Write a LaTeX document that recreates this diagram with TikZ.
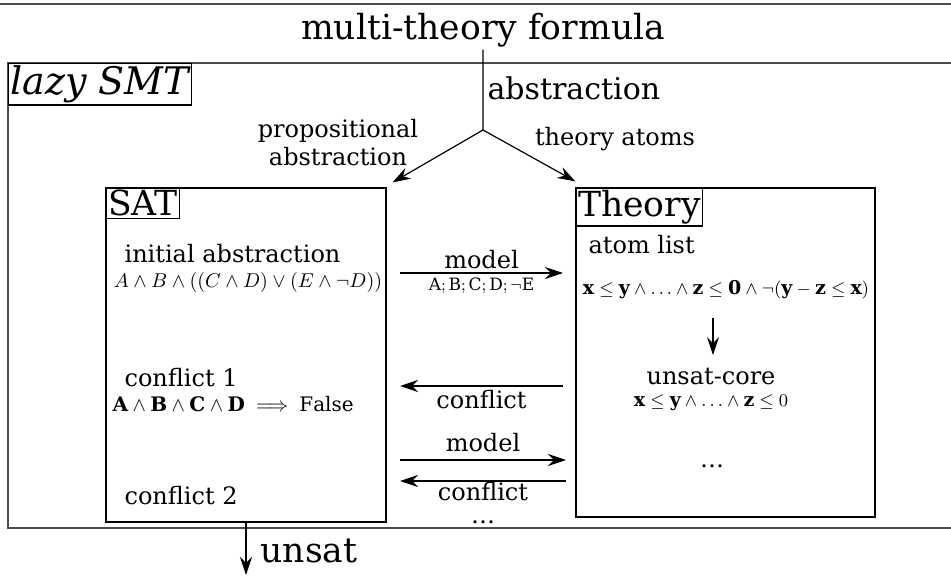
\documentclass[tikz,border=0pt]{standalone}
\usepackage{fontspec}
\setmainfont{DejaVu Serif}
\usepackage{amsmath}
\usepackage{amssymb}
\usetikzlibrary{arrows.meta}
\usetikzlibrary{positioning}

\begin{document}
\begin{tikzpicture}[x=0.5pt,y=-0.5pt,line width=0.6pt,>={Stealth[length=9pt,width=6pt,inset=3pt]},
    box node/.style={draw,rectangle,inner sep=0pt},
    title node/.style={draw,font=\LARGE,inner sep=1pt,anchor=north west},
    text node/.style={font=\large,inner sep=0.5pt},
    arrow label/.style={font=\large,inner sep=2pt},
    math node/.style={inner sep=0pt}]
   \useasboundingbox (0,0) rectangle (951,576);
   \draw[line width=0.9pt,black!70] (0,4) -- (951,4);
   \node[font=\LARGE,inner sep=1pt] (formula) at (483,30) {multi-theory formula};
   % lazy SMT frame
   \draw[line width=0.9pt,black!70] (951,63) -- (8,63) -- (8,528) -- (951,528);
   \node[title node,font=\fontsize{19}{23}\selectfont\itshape] (lazy) at (8,63) {lazy SMT};
   % abstraction
   \coordinate (split) at (483,130);
   \node[font=\fontsize{15}{18}\selectfont,inner sep=1pt,anchor=west] (abs) at (485,88) {abstraction};
   \node[text node,align=center] (prop) at (338,143) {propositional\\abstraction};
   \node[text node] (atoms) at (615,139) {theory atoms};
   \begin{scope}
      \node[box node,minimum width=140pt,minimum height=167pt] (sat) at (246,355) {};
      \node[title node] (satlbl) at (sat.north west) {SAT};
      \node[text node,anchor=west] (init) at (123,254) {initial abstraction};
      \node[math node] (initf) at (248,283) {$A \land B \land ((C \land D) \lor (E \land \neg D))$};
      \node[text node,anchor=west] (conf1) at (123,378) {conflict 1};
      \node[math node,anchor=west] (conf1f) at (112,404) {$\mathbf{A} \land \mathbf{B} \land \mathbf{C} \land \mathbf{D} \implies \mathrm{False}$};
      \node[text node,anchor=west] (conf2) at (123,496) {conflict 2};
   \end{scope}
   \begin{scope}
      \node[box node,minimum width=149.5pt,minimum height=164.5pt] (theory) at (725.5,352.5) {};
      \node[title node] (thlbl) at (theory.north west) {Theory};
      \node[text node,anchor=west] (list) at (587,245) {atom list};
      \node[math node,font=\fontsize{9.5}{11}\selectfont] (listf) at (726,290) {$\mathbf{x} \leq \mathbf{y} \land \ldots \land \mathbf{z} \leq \mathbf{0} \land \neg(\mathbf{y} - \mathbf{z} \leq \mathbf{x})$};
      \node[text node] (core) at (711,377) {unsat-core};
      \node[math node,font=\fontsize{9.5}{11}\selectfont] (coref) at (711,403) {$\mathbf{x} \leq \mathbf{y} \land \ldots \land \mathbf{z} \leq 0$};
      \node[text node] (more) at (712,466) {\ldots};
   \end{scope}
   % exchange between SAT and theory
   \coordinate (m1a) at (400,273);
   \coordinate (m1b) at (563,273);
   \coordinate (c1a) at (563,386);
   \coordinate (c1b) at (400,386);
   \coordinate (m2a) at (400,460);
   \coordinate (m2b) at (566,460);
   \coordinate (c2a) at (566,481);
   \coordinate (c2b) at (400,481);
   \coordinate (out) at (246,575);
   \draw[->] (formula) -- (split) -- ([shift={(6,-5)}]sat.north east);
   \draw[->] (split) -- ([yshift=3]theory.north west);
   \draw[->] (m1a) -- node[arrow label,above] {model} node[math node,below=2pt,font=\fontsize{8.5}{10}\selectfont] {$\mathrm{A}; \mathrm{B}; \mathrm{C}; \mathrm{D}; \neg\mathrm{E}$} (m1b);
   \draw[->] (c1a) -- node[arrow label,below] (conflbl) {conflict} (c1b);
   \draw[->] (m2a) -- node[arrow label,above,yshift=2pt] {model} (m2b);
   \draw[->] (c2a) -- node[arrow label,below,inner sep=0.5pt] (conflbl2) {conflict} (c2b);
   \node[text node,inner sep=0pt] (dots) at (483,522) {\ldots};
   \draw[->,shorten <=9pt,shorten >=6pt] (listf.south -| 713,0) -- (core.north -| 713,0);
   \draw[->] (sat.south) -- (out);
   \node[font=\LARGE,inner sep=1pt,anchor=west] (unsat) at (258,551) {unsat};
\end{tikzpicture}
\end{document}
